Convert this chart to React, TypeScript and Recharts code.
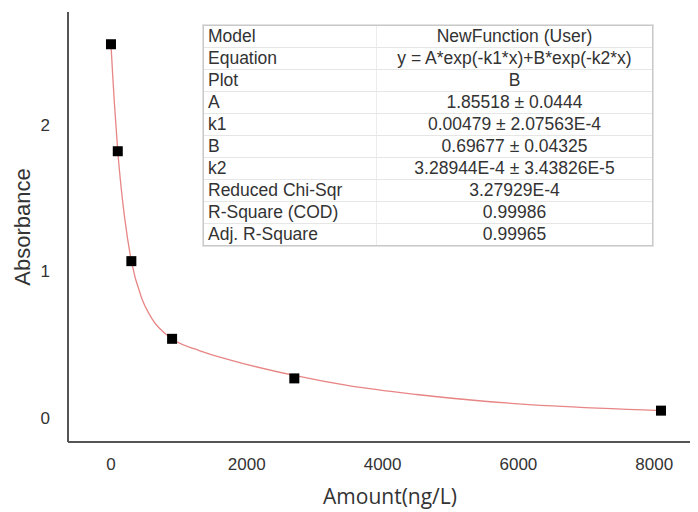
import { ComposedChart, Line, Scatter, XAxis, YAxis } from 'recharts';

// measured points (Amount ng/L, Absorbance)
const amounts = [0, 100, 300, 900, 2700, 8100];
const absorbance = [2.55, 1.82, 1.07, 0.54, 0.27, 0.05];

// fitted curve
const curveX = [0, 25, 50, 100, 150, 200, 300, 450, 600, 900, 1300, 1800, 2700, 3500, 4500, 5500, 6500, 8100];
const curveY = [2.55, 2.34, 2.15, 1.82, 1.57, 1.37, 1.07, 0.82, 0.68, 0.54, 0.46, 0.39, 0.29, 0.22, 0.16, 0.114, 0.082, 0.05];

const xTicks = [0, 2000, 4000, 6000, 8000];
const yTicks = [0, 1, 2];

const tableRows: [string, string][] = [
  ['Model', 'NewFunction (User)'],
  ['Equation', 'y = A*exp(-k1*x)+B*exp(-k2*x)'],
  ['Plot', 'B'],
  ['A', '1.85518 ± 0.0444'],
  ['k1', '0.00479 ± 2.07563E-4'],
  ['B', '0.69677 ± 0.04325'],
  ['k2', '3.28944E-4 ± 3.43826E-5'],
  ['Reduced Chi-Sqr', '3.27929E-4'],
  ['R-Square (COD)', '0.99986'],
  ['Adj. R-Square', '0.99965'],
];

const points = amounts.map((x, i) => ({ x, y: absorbance[i] }));
const curve = curveX.map((x, i) => ({ x, y: curveY[i] }));

const font = '"Liberation Sans", Arial, sans-serif';

const SquareDot = (props: any) => (
  <rect x={props.cx - 5} y={props.cy - 5} width={10} height={10} fill="#000" />
);

const YTitle = () => (
  <text
    x={14}
    y={219}
    transform="rotate(-90 14 219)"
    textAnchor="middle"
    dominantBaseline="central"
    fill="#333"
    fontSize={22}
    fontFamily={font}
  >
    Absorbance
  </text>
);

const XTitle = () => (
  <text x={382} y={496} textAnchor="middle" fill="#333" fontSize={21} fontFamily='"Open Sans", sans-serif'>
    Amount(ng/L)
  </text>
);

function FitTable() {
  return (
    <div
      style={{
        position: 'absolute',
        left: 195,
        top: 17,
        width: 448,
        border: '1px solid #c8c8c8',
        boxShadow: '0 0 0 1px #e2e2e2',
        background: '#fff',
        fontFamily: font,
        fontSize: 17.5,
        color: '#333',
      }}
    >
      {tableRows.map(([k, v], i) => (
        <div
          key={k}
          style={{
            display: 'flex',
            height: 21,
            lineHeight: '21px',
            borderTop: i === 0 ? 'none' : '1px solid #e6e6e6',
          }}
        >
          <div style={{ width: 168, paddingLeft: 4, borderRight: '1px solid #ececec', whiteSpace: 'nowrap' }}>{k}</div>
          <div style={{ flex: 1, textAlign: 'center', whiteSpace: 'nowrap' }}>{v}</div>
        </div>
      ))}
    </div>
  );
}

export default function App() {
  return (
    <div style={{ position: 'relative', width: 690, height: 504 }}>
      <ComposedChart width={690} height={504} margin={{ top: 4, right: 0, bottom: 0, left: 0 }}>
        <XAxis
          dataKey="x"
          type="number"
          domain={[-633, 8645]}
          ticks={xTicks}
          allowDataOverflow
          tickLine={false}
          tickSize={0}
          tickMargin={16}
          height={70}
          stroke="#555"
          strokeWidth={2}
          tick={{ fill: '#333', fontSize: 17, fontFamily: font }}
          label={<XTitle />}
        />
        <YAxis
          dataKey="y"
          type="number"
          domain={[-0.164, 2.77]}
          ticks={yTicks}
          allowDataOverflow
          tickLine={false}
          tickSize={0}
          tickMargin={18}
          width={60}
          stroke="#555"
          strokeWidth={2}
          tick={{ fill: '#333', fontSize: 17, fontFamily: font }}
          label={<YTitle />}
        />
        <Line
          data={curve}
          dataKey="y"
          type="monotone"
          stroke="#e88585"
          strokeWidth={1.3}
          dot={false}
          activeDot={false}
          isAnimationActive={false}
        />
        <Scatter data={points} dataKey="y" shape={SquareDot} isAnimationActive={false} />
      </ComposedChart>
      <FitTable />
    </div>
  );
}
